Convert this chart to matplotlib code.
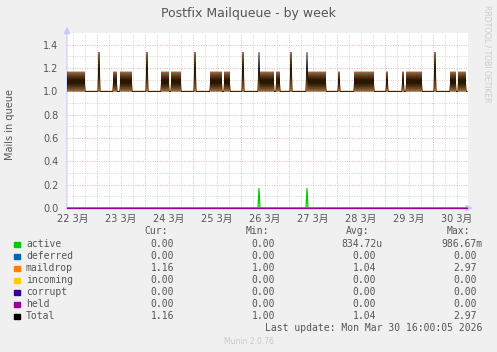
import matplotlib.pyplot as plt

# 30-minute samples of Total, one string per day (22..30 March); first day starts at 09:00
# "0" = 1.00, "1" = 1.1667, "2" = 1.3333
levels = {"0": 1.0, "1": 1.1667, "2": 1.3333}
day_start_sample = [18, 0, 0, 0, 0, 0, 0, 0, 0]
day_samples = [
    "010101010101010101000000000000",
    "002000000000000001010000101010101010000000000000",
    "002000000000000001010101000101010101000000000000",
    "002000000000000000101010101010001010100000000000",
    "002000000000000000201010101010101000101000000000",
    "002000000000000000201010101010101010100000000000",
    "001000000000000000101010101010101010100000000000",
    "001000000000000000100010101010101010100000000000",
    "00200000000000000010101000101010100",
]
active_hours = [105.0, 129.0]
active_peak = 0.1667

day_labels = ["22 3月", "23 3月", "24 3月", "25 3月", "26 3月",
              "27 3月", "28 3月", "29 3月", "30 3月"]
ytick_vals = [0.0, 0.2, 0.4, 0.6, 0.8, 1.0, 1.2, 1.4]

names = ["active", "deferred", "maildrop", "incoming", "corrupt", "held", "Total"]
colors = ["#00cc00", "#0066b3", "#ff8000", "#ffcc00", "#330099", "#990099", "#000000"]
cur = ["0.00", "0.00", "1.16", "0.00", "0.00", "0.00", "1.16"]
mins = ["0.00", "0.00", "1.00", "0.00", "0.00", "0.00", "1.00"]
avgs = ["834.72u", "0.00", "1.04", "0.00", "0.00", "0.00", "1.04"]
maxs = ["986.67m", "0.00", "2.97", "0.00", "0.00", "0.00", "2.97"]

# build series
hours, total = [], []
for d, s in enumerate(day_samples):
    for i, c in enumerate(s):
        hours.append(24 * d + (day_start_sample[d] + i) * 0.5)
        total.append(levels[c])
active = [active_peak if h in active_hours else 0.0 for h in hours]
maildrop = [t - a for t, a in zip(total, active)]
zeros = [0.0] * len(hours)

W, H = 497, 352
fig = plt.figure(figsize=(W / 100, H / 100), dpi=100, facecolor="#f0f0f0")
ax = fig.add_axes([67 / W, (H - 208) / H, 401 / W, 175 / H])
ax.set_facecolor("white")
ax.set_xlim(9, 209.5)
ax.set_ylim(0, 1.5)

# grid
for h in range(12, 210, 6):
    if h % 24 == 0:
        ax.axvline(h, color="#eab0b0", lw=0.7, ls=(0, (1.0, 1.5)), zorder=0)
    else:
        ax.axvline(h, color="#d2d2d2", lw=0.7, ls=(0, (1.0, 1.5)), zorder=0)
for i in range(1, 15):
    y = i * 0.1
    if i % 2 == 0:
        ax.axhline(y, color="#eab0b0", lw=0.7, ls=(0, (1.0, 1.5)), zorder=0)
    else:
        ax.axhline(y, color="#d2d2d2", lw=0.7, ls=(0, (1.0, 1.5)), zorder=0)

for sp in ax.spines.values():
    sp.set_visible(False)

# axis arrows
ax.annotate("", xy=(0, 1.035), xytext=(0, 0), xycoords="axes fraction",
            arrowprops=dict(arrowstyle="-|>,head_length=0.4,head_width=0.2",
                            color="#c8c8ff", lw=0.8, shrinkA=0, shrinkB=0))
ax.annotate("", xy=(1.012, 0), xytext=(0, 0), xycoords="axes fraction",
            arrowprops=dict(arrowstyle="-|>,head_length=0.4,head_width=0.2",
                            color="#c8c8ff", lw=0.8, shrinkA=0, shrinkB=0))

# series (drawn in munin order)
ax.plot(hours, active, color=colors[0], lw=0.9, zorder=3)
ax.plot(hours, zeros, color=colors[1], lw=0.9, zorder=3)
ax.plot(hours, maildrop, color=colors[2], lw=0.7, zorder=3)
ax.plot(hours, zeros, color=colors[3], lw=0.9, zorder=3)
ax.plot(hours, zeros, color=colors[4], lw=0.9, zorder=3)
ax.plot(hours, zeros, color=colors[5], lw=0.9, zorder=3, clip_on=False)
ax.plot(hours, total, color=colors[6], lw=0.6, zorder=4)

ax.set_xticks([12 + 24 * d for d in range(len(day_labels))])
ax.set_xticklabels(day_labels, fontsize=7, color="#555555",
                   family=["DejaVu Sans", "Noto Sans CJK JP"])
ax.set_yticks(ytick_vals)
ax.set_yticklabels(["%.1f" % v for v in ytick_vals], fontsize=7, color="#555555")
ax.tick_params(length=0)
ax.tick_params(axis="x", pad=4)
ax.tick_params(axis="y", pad=6)


def px(x, y):
    return x / W, 1 - y / H


fig.text(*px(248, 13), "Postfix Mailqueue - by week", ha="center", va="center",
         fontsize=9, color="#555555")
fig.text(*px(10, 124), "Mails in queue", ha="center", va="center", rotation=90,
         fontsize=7, color="#555555")
fig.text(*px(487, 5), "RRDTOOL / TOBI OETIKER", ha="center", va="top", rotation=270,
         fontsize=5.5, color="#cccccc")

mono = "DejaVu Sans Mono"
tc = "#555555"
header_y = 231.5
for label, x in [("Cur:", 168), ("Min:", 268.7), ("Avg:", 369.3), ("Max:", 470)]:
    fig.text(*px(x, header_y), label, ha="right", va="center", family=mono,
             fontsize=7, color=tc)

col_right = [174.3, 275.3, 376, 476.7]
for i, name in enumerate(names):
    y = 244.3 + 12 * i
    fig.patches.append(plt.Rectangle(px(14, y + 2.7), 5.5 / W, 5.5 / H,
                                     transform=fig.transFigure, color=colors[i]))
    fig.text(*px(26, y), name, ha="left", va="center", family=mono, fontsize=7, color=tc)
    for xr, val in zip(col_right, [cur[i], mins[i], avgs[i], maxs[i]]):
        if val[-1] in "um":
            fig.text(*px(xr + 6, y), val, ha="right", va="center", family=mono,
                     fontsize=7, color=tc)
        else:
            fig.text(*px(xr, y), val, ha="right", va="center", family=mono,
                     fontsize=7, color=tc)

fig.text(*px(482.7, 328.3), "Last update: Mon Mar 30 16:00:05 2026", ha="right",
         va="center", family=mono, fontsize=7, color=tc)
fig.text(*px(249, 341.7), "Munin 2.0.76", ha="center", va="center",
         fontsize=5.5, color="#c8c8c8")

fig.savefig("out.png", dpi=100, facecolor=fig.get_facecolor())
